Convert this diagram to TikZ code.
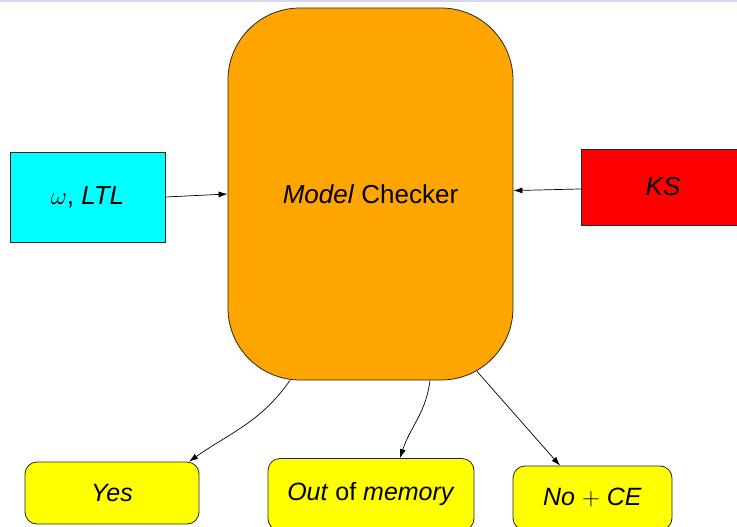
\documentclass[tikz,border=0pt]{standalone}
\usepackage{fontspec}
\setmainfont{Liberation Sans}
\usetikzlibrary{arrows.meta}
\definecolor{band}{RGB}{214,214,238}
\definecolor{mcorange}{RGB}{255,165,0}
\definecolor{ltlcyan}{RGB}{0,255,255}
\definecolor{ksred}{RGB}{255,0,0}
\definecolor{resyellow}{RGB}{255,255,0}
\tikzset{
  x=1pt,y=-1pt,
  box/.style={draw=black!85,line width=0.8pt,inner sep=0pt,font=\fontsize{26}{30}\selectfont},
  res/.style={box,fill=resyellow,rounded corners=12pt,font=\fontsize{25}{30}\selectfont},
  arr/.style={draw=black,line width=0.7pt,-{Latex[length=9pt,width=6pt]}}
}
\begin{document}
\begin{tikzpicture}
\useasboundingbox (0,0) rectangle (737,527);
\clip (0,0) rectangle (737,527);
\fill[band] (0,0) rectangle (737,2.5);
\node[box,fill=mcorange,rounded corners=72pt,minimum width=285pt,minimum height=372pt] (mc) at (370.5,194) {\textit{Model} Checker};
\node[box,fill=ltlcyan,minimum width=155pt,minimum height=90pt] (ltl) at (87.5,197) {$\omega$, \textit{LTL}};
\node[box,fill=ksred,minimum width=164pt,minimum height=76pt] (ks) at (663,187) {\textit{KS}\hspace{4pt}};
\node[res,minimum width=174pt,minimum height=62pt] (yes) at (112,493) {\textit{Yes}};
\node[res,minimum width=206pt,minimum height=72pt] (oom) at (371,494.5) {\raisebox{4pt}{\textit{Out} of \textit{memory}}};
\node[res,minimum width=159pt,minimum height=64pt] (nce) at (592.5,498) {\raisebox{3pt}{\textit{No} $+$ \textit{CE}}};
\draw[arr] (ltl.east) -- (mc.west);
\draw[arr] (ks) -- (mc);
\draw[arr] ([xshift=-80.5pt]mc.south) to[out=-125,in=35] ([xshift=77pt]yes.north);
\draw[arr] ([xshift=59.5pt]mc.south) to[out=-97,in=72] ([xshift=29pt]oom.north);
\draw[arr] ([xshift=106.5pt,yshift=9pt]mc.south) -- ([xshift=-32.5pt]nce.north);
\end{tikzpicture}
\end{document}
